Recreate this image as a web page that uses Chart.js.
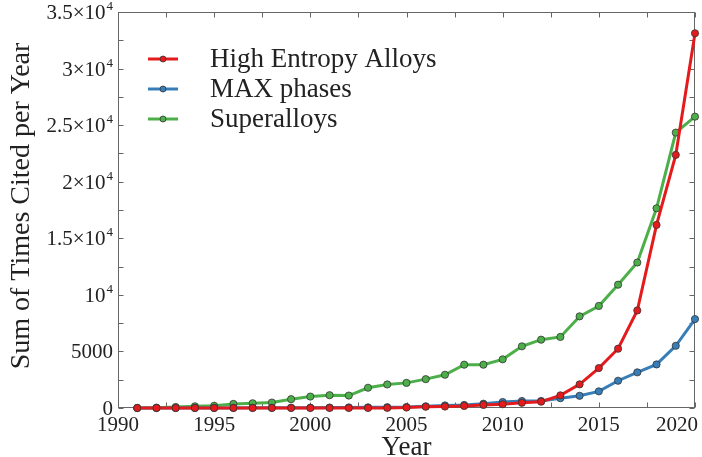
<!DOCTYPE html>
<html><head><meta charset="utf-8">
<script src="https://cdn.jsdelivr.net/npm/chart.js@4"></script>
<style>html,body{margin:0;padding:0;background:#fff;}</style>
</head><body>
<canvas id="c" width="702" height="457"></canvas>
<script>
const years = [1991,1992,1993,1994,1995,1996,1997,1998,1999,2000,2001,2002,2003,2004,2005,2006,2007,2008,2009,2010,2011,2012,2013,2014,2015,2016,2017,2018,2019,2020];
const highEntropyAlloys = [0,0,0,0,0,0,0,0,0,0,0,0,0,10,40,110,130,180,270,330,460,560,1120,2090,3530,5240,8620,16180,22370,33120];
const maxPhases = [0,0,0,0,5,10,15,20,25,30,40,50,60,70,90,150,230,270,380,530,620,620,870,1080,1470,2410,3150,3850,5500,7860];
const superalloys = [0,30,90,150,200,360,420,480,780,1010,1130,1100,1790,2080,2220,2550,2940,3830,3830,4300,5450,6040,6280,8100,9020,10900,12860,17650,24340,25750];
const seriesNames = ['High Entropy Alloys','MAX phases','Superalloys'];
const xTickValues = [1990,1995,2000,2005,2010,2015,2020];
const xTickLabels = ['1990','1995','2000','2005','2010','2015','2020'];
const xMinorStep = 2.5;
const yTickValues = [0,5000,10000,15000,20000,25000,30000,35000];
const yTickLabels = ['0','5000','10^4','1.5\u00d710^4','2\u00d710^4','2.5\u00d710^4','3\u00d710^4','3.5\u00d710^4'];
const yMinorStep = 2500;
const xTitle = 'Year';
const yTitle = 'Sum of Times Cited per Year';

const FONT = "'Liberation Serif','Times New Roman',serif";
const colors = ['#e41a1c','#377eb8','#4daf4a'];
const seriesValues = [highEntropyAlloys, maxPhases, superalloys];

const decor = {
  id: 'decor',
  beforeDatasetsDraw(chart) {
    const {ctx, chartArea: a, scales: {x, y}} = chart;
    ctx.save();
    ctx.strokeStyle = '#666';
    ctx.lineWidth = 1;
    const L = Math.round(a.left) + 0.5, R = Math.round(a.right) - 0.5;
    const T = Math.round(a.top) + 0.5, B = Math.round(a.bottom) - 0.5;
    ctx.strokeRect(L, T, R - L, B - T);
    const tl = 5;
    ctx.beginPath();
    for (let v = x.min; v <= x.max + 1e-9; v += xMinorStep) {
      const px = Math.round(x.getPixelForValue(v)) + 0.5;
      ctx.moveTo(px, B); ctx.lineTo(px, B - tl);
      ctx.moveTo(px, T); ctx.lineTo(px, T + tl);
    }
    for (let v = y.min; v <= y.max + 1e-9; v += yMinorStep) {
      const py = Math.round(y.getPixelForValue(v)) + 0.5;
      ctx.moveTo(L, py); ctx.lineTo(L + tl, py);
      ctx.moveTo(R, py); ctx.lineTo(R - tl, py);
    }
    ctx.stroke();
    ctx.restore();
  },
  afterDraw(chart) {
    const {ctx, chartArea: a, scales: {x, y}, width} = chart;
    ctx.save();
    ctx.fillStyle = '#222';
    ctx.textBaseline = 'alphabetic';
    // x tick labels
    ctx.font = `21px ${FONT}`;
    ctx.textAlign = 'center';
    xTickValues.forEach((v, i) => {
      const w = ctx.measureText(xTickLabels[i]).width;
      let cx = x.getPixelForValue(v);
      cx = Math.min(cx, width - 4 - w / 2);
      ctx.fillText(xTickLabels[i], cx, a.bottom + 23);
    });
    // y tick labels with superscript exponents
    ctx.textAlign = 'left';
    yTickValues.forEach((v, i) => {
      const [base, exp] = yTickLabels[i].split('^');
      ctx.font = `21px ${FONT}`;
      const wb = ctx.measureText(base).width;
      let we = 0;
      if (exp) { ctx.font = `13px ${FONT}`; we = ctx.measureText(exp).width + 1; }
      const py = y.getPixelForValue(v);
      const x0 = a.left - 5 - wb - we;
      ctx.font = `21px ${FONT}`;
      ctx.fillText(base, x0, py + 7);
      if (exp) { ctx.font = `13px ${FONT}`; ctx.fillText(exp, x0 + wb + 1, py - 2); }
    });
    // axis titles
    ctx.textAlign = 'center';
    ctx.font = `27px ${FONT}`;
    ctx.fillText(xTitle, (a.left + a.right) / 2, a.bottom + 47);
    ctx.save();
    ctx.translate(22, (a.top + a.bottom) / 2 - 4);
    ctx.rotate(-Math.PI / 2);
    ctx.font = `28px ${FONT}`;
    ctx.textBaseline = 'middle';
    ctx.fillText(yTitle, 0, 0);
    ctx.restore();
    // legend
    ctx.textAlign = 'left';
    ctx.font = `27px ${FONT}`;
    seriesNames.forEach((name, i) => {
      const ly = 59 + i * 30;
      ctx.strokeStyle = colors[i];
      ctx.lineWidth = 3;
      ctx.beginPath(); ctx.moveTo(148, ly); ctx.lineTo(178, ly); ctx.stroke();
      ctx.beginPath(); ctx.arc(163, ly, 3, 0, Math.PI * 2);
      ctx.fillStyle = colors[i]; ctx.fill();
      ctx.lineWidth = 0.8; ctx.strokeStyle = '#333'; ctx.stroke();
      ctx.fillStyle = '#222';
      ctx.fillText(name, 210, ly + 8);
    });
    ctx.restore();
  }
};

new Chart(document.getElementById('c'), {
  type: 'line',
  data: {
    datasets: seriesNames.map((name, i) => ({
      label: name,
      data: years.map((yr, j) => ({x: yr, y: seriesValues[i][j]})),
      borderColor: colors[i],
      backgroundColor: colors[i],
      borderWidth: 3,
      pointRadius: 3.6,
      pointBorderColor: '#333',
      pointBorderWidth: 0.8,
      pointBackgroundColor: colors[i],
      tension: 0,
      clip: false
    }))
  },
  options: {
    responsive: false,
    animation: false,
    devicePixelRatio: 1,
    layout: {padding: {left: 0, right: 7, top: 12, bottom: 0}},
    plugins: {legend: {display: false}, tooltip: {enabled: false}},
    scales: {
      x: {
        type: 'linear', min: 1990, max: 2020,
        ticks: {display: false},
        grid: {display: false, drawTicks: false},
        border: {display: false},
        afterFit(s) { s.height = 49; s.paddingLeft = 0; s.paddingRight = 0; }
      },
      y: {
        type: 'linear', min: 0, max: 35000,
        afterBuildTicks(s) { s.ticks = yTickValues.map(v => ({value: v})); },
        ticks: {display: false},
        grid: {display: false, drawTicks: false},
        border: {display: false},
        afterFit(s) { s.width = 118; s.paddingTop = 0; s.paddingBottom = 0; }
      }
    }
  },
  plugins: [decor]
});
</script>
</body></html>
